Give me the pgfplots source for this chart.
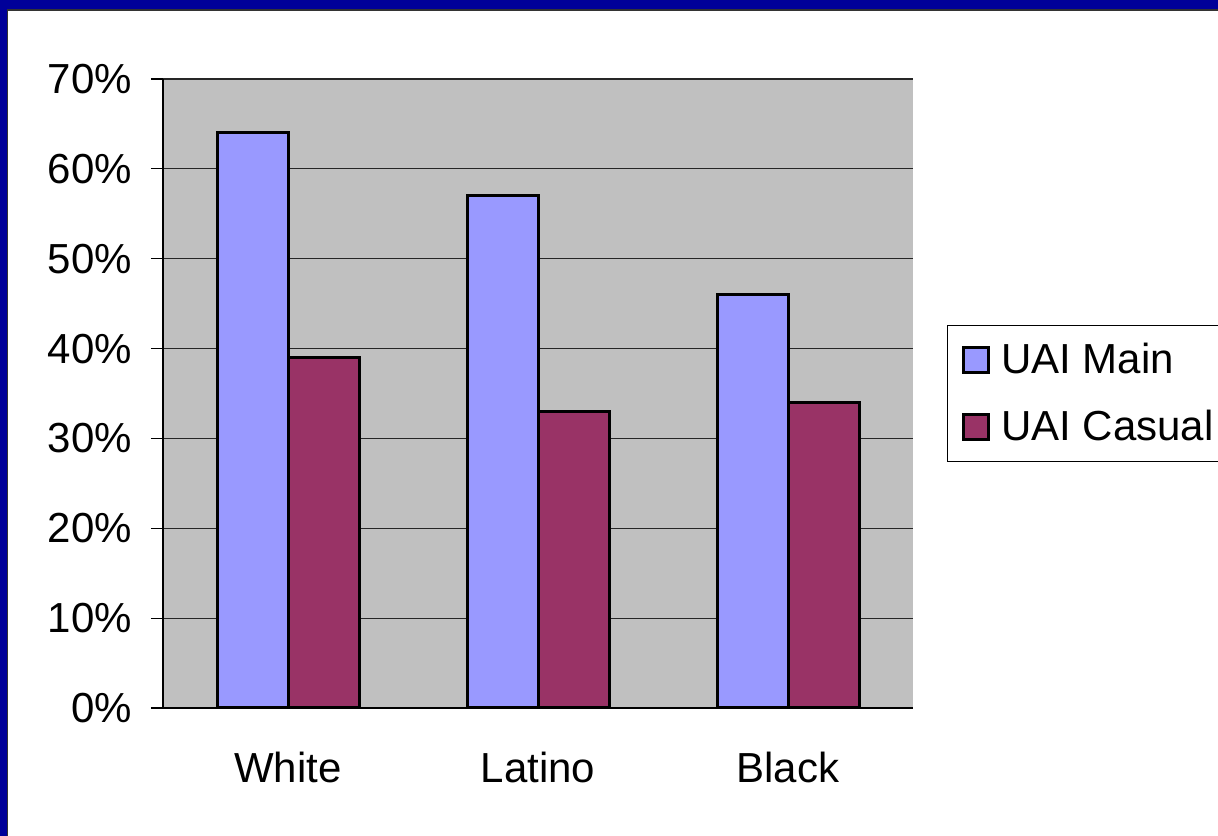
\documentclass[border=0pt]{standalone}
\usepackage{pgfplots}
\pgfplotsset{compat=1.18}
\usepackage{fontspec}
\setmainfont{Liberation Sans}

\definecolor{uaimain}{HTML}{9999FF}
\definecolor{uaicasual}{HTML}{993366}
\definecolor{plotgray}{HTML}{C0C0C0}
\definecolor{slideblue}{HTML}{000099}

\newcommand{\chartfont}{\fontsize{21bp}{25bp}\selectfont}

\begin{document}
\begin{tikzpicture}
  % slide canvas and frame
  \path[use as bounding box, clip] (0,0) rectangle (609bp,418bp);
  \fill[white] (0,0) rectangle (609bp,418bp);
  \fill[slideblue] (0,413.3bp) rectangle (609bp,418bp);
  \fill[slideblue] (0,0) rectangle (3.5bp,418bp);
  \draw[black!80, line width=0.6bp] (3.8bp,0) -- (3.8bp,413bp) -- (609bp,413bp);

  \begin{axis}[
    at={(81.5bp,64bp)}, anchor=south west,
    scale only axis,
    width=375bp, height=314.5bp,
    xmin=-0.5, xmax=2.5,
    ymin=0, ymax=70,
    axis background/.style={fill=plotgray},
    axis x line*=bottom, axis y line*=left,
    axis line style={black, line width=0.6bp, -},
    ybar=0pt, bar width=0.284,
    xtick={0,1,2},
    xticklabels={White,Latino,Black},
    xtick style={draw=none},
    minor xtick={-0.5,0.5,1.5,2.5},
    minor x tick style={black, line width=0.6bp},
    minor tick length=6bp,
    ytick={0,10,...,70},
    yticklabels={0\%,10\%,20\%,30\%,40\%,50\%,60\%,70\%},
    ytick style={black, line width=0.6bp},
    major tick length=6bp,
    tick align=outside,
    ymajorgrids,
    grid style={black!85, line width=0.6bp},
    tick label style={font=\chartfont},
    xticklabel style={yshift=-12.5bp},
    yticklabel style={xshift=-6bp},
    legend style={
      at={(1,0.5)}, anchor=west, xshift=17bp,
      font=\chartfont, draw=black, line width=0.6bp,
      inner xsep=7bp, inner ysep=7bp,
      row sep=13bp,
      cells={anchor=west},
    },
    legend image code/.code={
      \draw[#1, line width=1.5bp] (0bp,-6.25bp) rectangle (12.5bp,6.25bp);
      \path[draw=none, fill=none] (0bp,0bp) -- (17bp,0bp);
    },
  ]
    \addplot[fill=uaimain, draw=black, line width=1.5bp]
      coordinates {(0,64) (1,57) (2,46)};
    \addplot[fill=uaicasual, draw=black, line width=1.5bp]
      coordinates {(0,39) (1,33) (2,34)};
    \legend{UAI Main, UAI Casual}
  \end{axis}
\end{tikzpicture}
\end{document}
